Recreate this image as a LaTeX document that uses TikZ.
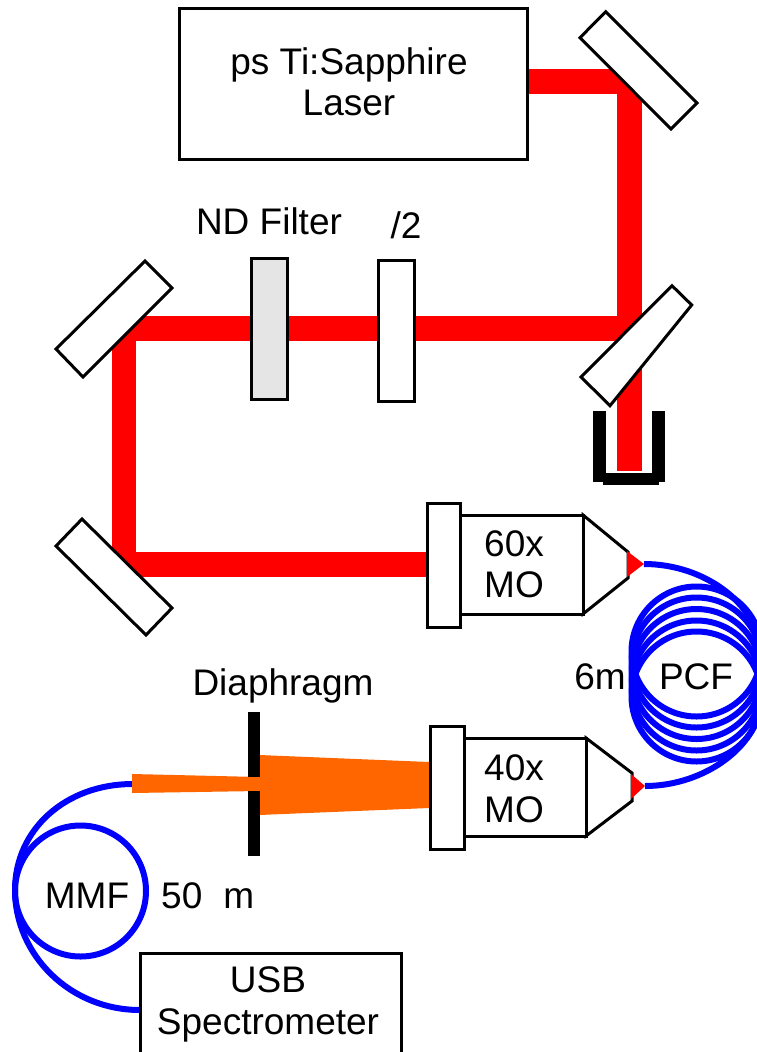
\documentclass[tikz,border=0pt]{standalone}
\usepackage{fontspec}
\setmainfont{Liberation Sans}
\usepackage{tikz}
\usetikzlibrary{calc,positioning}
\definecolor{orangebeam}{RGB}{255,102,0}
\tikzset{
	optic/.style={draw=black, line width=3pt, fill=white, line join=miter},
	beam/.style={draw=red, line width=24.5pt, line join=miter},
	fibre/.style={draw=blue, line width=6pt},
	lbl/.style={inner sep=0pt, align=center, font=\fontsize{37}{41.5}\selectfont},
}
\begin{document}
\begin{tikzpicture}[x=1pt, y=-1pt]
	\useasboundingbox (0,0) rectangle (757,1052);
	% red beam path
	\coordinate (tipa) at (644,564);
	\coordinate (tipb) at (645,786);
	\draw[beam] (527,81.5) -- (629.5,81.5) -- (629.5,471);
	\draw[beam] (629.5,328.5) -- (124,328.5) -- (124,564.5) -- (428,564.5);
	% fibres
	\foreach \cy in {651.5,662.5,674,685.5,696.5}
		\draw[fibre] (696.5,\cy) circle (65);
	\draw[fibre] (tipa) .. controls (705,564) and (762,605) .. (762,660);
	\draw[fibre] (tipb) .. controls (705,786) and (762,745) .. (762,695);
	\draw[fibre] (80.5,891) circle (65.5);
	\draw[fibre] (133,784) .. controls (65,784) and (15,830) .. (15,890) .. controls (15,955) and (70,1010) .. (140,1010);
	% mirrors
	\draw[optic] (605.7,11.7) -- (697,103) -- (671,129) -- (580,37.7) -- cycle;
	\draw[optic] (672,285.7) -- (691.7,305) -- (610,405.7) -- (581,377) -- cycle;
	\draw[optic] (145,261) -- (172,288) -- (83,377) -- (56,349) -- cycle;
	\draw[optic] (82,519) -- (172,608) -- (146,635) -- (56,546) -- cycle;
	% beam dump
	\fill (593,411) rectangle (606,482);
	\fill (652,411) rectangle (665,482);
	\fill (606,473) rectangle (652,482);
	\fill (603,480) rectangle (659,485);
	% orange beams
	\fill[orangebeam] (132,774) -- (259,777) -- (259,791) -- (132,793) -- cycle;
	\fill[orangebeam] (259,755) -- (429,762) -- (429,808) -- (259,815) -- cycle;
	\fill (247.5,712) rectangle (260,777);
	\fill (247.5,791) rectangle (260,856);
	% boxes
	\draw[optic] (179,8) rectangle (527,159) node[midway, lbl, xshift=-4pt, yshift=1.5pt] (laser) {ps Ti:Sapphire\\Laser};
	\draw[optic, fill=black!10] (251,258) rectangle (287,399) node[midway] (ndfilter) {};
	\draw[optic] (378,260) rectangle (414,401) node[midway] (waveplate) {};
	\draw[optic] (140,953) rectangle (401,1060) node[midway] (usb) {};
	\node[lbl] (usbtext) at (268,1004.5) {USB\\Spectrometer};
	% objectives
	\draw[optic] (583,515) -- (628,552) -- (628,578) -- (583,614) -- cycle;
	\draw[optic] (460,515) rectangle (583,614) node[midway, lbl, xshift=-7.5pt] (moa) {60x\\MO};
	\draw[optic] (427,503) rectangle (460,627) node[midway] (platea) {};
	\fill[red] (627,551) -- (tipa) -- (627,577) -- cycle;
	\draw[optic] (586,738) -- (632,773) -- (632,801) -- (586,836) -- cycle;
	\draw[optic] (464,738) rectangle (586,836) node[midway, lbl, xshift=-11pt, yshift=-2pt] (mob) {40x\\MO};
	\draw[optic] (430,726) rectangle (464,849) node[midway] (plateb) {};
	\fill[red] (631,774) -- (tipb) -- (631,799) -- cycle;
	% labels
	\node[lbl] (ndlabel) at (269,221) {ND Filter};
	\node[lbl] (wavelabel) at (406,225) {/2};
	\node[lbl] (diaphlabel) at (283,686) {Diaphragm};
	\node[lbl] (lenpcf) at (600,677) {6m};
	\node[lbl] (pcf) at (696,677) {PCF};
	\node[lbl] (mmf) at (87,896) {MMF};
	\node[lbl, anchor=west] (lenmmf) at (161,896) {50\hspace{21pt}m};
\end{tikzpicture}
\end{document}
